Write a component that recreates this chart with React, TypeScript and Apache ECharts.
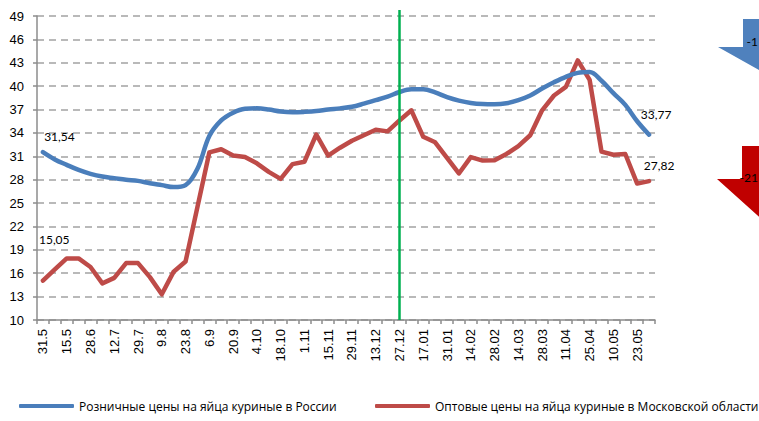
import React, { useEffect, useRef } from "react";
import * as echarts from "echarts";

const tickLabels = [
  "31.5", "15.5", "28.6", "12.7", "29.7", "9.8", "23.8", "6.9", "20.9", "4.10",
  "18.10", "1.11", "15.11", "29.11", "13.12", "27.12", "17.01", "31.01", "14.02", "28.02",
  "14.03", "28.03", "11.04", "25.04", "10.05", "23.05",
];

// weekly points: every second one carries a tick label
const categories: string[] = [];
for (let i = 0; i < 52; i++) {
  categories.push(i % 2 === 0 ? tickLabels[i / 2] : tickLabels[(i - 1) / 2] + " +1w");
}

const retailName = "Розничные цены на яйца куриные в России";
const wholesaleName = "Оптовые цены на яйца куриные в Московской области";

const retail = [
  31.54, 30.6, 29.9, 29.25, 28.75, 28.4, 28.2, 28.0, 27.85, 27.55,
  27.3, 27.05, 27.3, 29.4, 33.6, 35.6, 36.6, 37.1, 37.15, 37.0,
  36.75, 36.65, 36.7, 36.8, 37.0, 37.15, 37.35, 37.75, 38.2, 38.65,
  39.25, 39.6, 39.6, 39.2, 38.6, 38.15, 37.85, 37.7, 37.67, 37.8,
  38.2, 38.8, 39.7, 40.5, 41.2, 41.7, 41.8, 40.7, 39.1, 37.6,
  35.5, 33.77,
];

const wholesale = [
  15.05, 16.5, 17.9, 17.9, 16.8, 14.7, 15.4, 17.3, 17.3, 15.5,
  13.3, 16.2, 17.5, 24.5, 31.5, 31.9, 31.1, 30.9, 30.1, 29.0,
  28.1, 30.0, 30.3, 33.8, 31.1, 32.1, 33.0, 33.7, 34.4, 34.2,
  35.6, 36.9, 33.5, 32.8, 30.8, 28.8, 30.9, 30.45, 30.5, 31.3,
  32.3, 33.7, 36.9, 38.8, 39.9, 43.3, 40.8, 31.6, 31.2, 31.3,
  27.5, 27.82,
];

const arrowTexts = ["-1", "-21"];

const markerIndex = 30; // "27.12"

const fmt = (v: number) => v.toFixed(2).replace(".", ",");

function withEndLabels(values: number[], firstOffset: number[], lastOffset: number[]) {
  const last = values.length - 1;
  return values.map((v, i) => {
    if (i !== 0 && i !== last) return v;
    return {
      value: v,
      symbolSize: 1,
      itemStyle: { color: "rgba(0,0,0,0)", borderWidth: 0 },
      label: {
        show: true,
        position: "top",
        distance: 0,
        opacity: 1,
        offset: i === 0 ? firstOffset : lastOffset,
        formatter: () => fmt(v),
        fontFamily: "Lato, 'Open Sans', sans-serif",
        fontSize: 12,
        color: "#000",
      },
    };
  });
}

export default function App() {
  const ref = useRef<HTMLDivElement>(null);
  useEffect(() => {
    if (!ref.current) return;
    const chart = echarts.init(ref.current, undefined, { renderer: "svg" });
    const legendText = { fontFamily: "'Open Sans', sans-serif", fontSize: 12, color: "#000" };
    chart.setOption({
      animation: false,
      backgroundColor: "#fff",
      grid: { left: 37, right: 104, top: 16, bottom: 101, containLabel: false },
      legend: [
        {
          data: [retailName],
          left: 19,
          top: 400,
          icon: "roundRect",
          itemWidth: 55,
          itemHeight: 4,
          textStyle: legendText,
          padding: 0,
        },
        {
          data: [wholesaleName],
          left: 375,
          top: 400,
          icon: "roundRect",
          itemWidth: 55,
          itemHeight: 4,
          textStyle: legendText,
          padding: 0,
        },
      ],
      xAxis: {
        type: "category",
        data: categories,
        boundaryGap: true,
        axisLine: { lineStyle: { color: "#8c8c8c", width: 1.5 } },
        axisTick: { show: true, interval: 0, length: 4, lineStyle: { color: "#8c8c8c", width: 1.5 } },
        axisLabel: {
          interval: 1,
          rotate: 90,
          margin: 9,
          fontFamily: "'Liberation Sans', Arial, sans-serif",
          fontSize: 13,
          color: "#000",
        },
        splitLine: { show: false },
      },
      yAxis: {
        type: "value",
        min: 10,
        max: 49,
        interval: 3,
        axisLine: { show: true, lineStyle: { color: "#8c8c8c", width: 1.5 } },
        axisTick: { show: true, length: 4, lineStyle: { color: "#8c8c8c", width: 1.5 } },
        axisLabel: {
          margin: 13,
          fontFamily: "'Liberation Sans', Arial, sans-serif",
          fontSize: 13,
          color: "#000",
        },
        splitLine: { show: true, lineStyle: { color: "#a3a3a3", width: 1.5, type: [7, 5] } },
      },
      series: [
        {
          name: retailName,
          type: "line",
          data: withEndLabels(retail, [16.5, -9], [7, -14]),
          smooth: 0.35,
          symbol: "circle",
          symbolSize: 0,
          showSymbol: true,
          showAllSymbol: true,
          color: "#4A7EBB",
          lineStyle: { color: "#4A7EBB", width: 4.5, cap: "round", join: "round" },
          z: 3,
        },
        {
          name: wholesaleName,
          type: "line",
          data: withEndLabels(wholesale, [11.3, -35], [10, -9]),
          smooth: false,
          symbol: "circle",
          symbolSize: 0,
          showSymbol: true,
          showAllSymbol: true,
          color: "#BE4B48",
          lineStyle: { color: "#BE4B48", width: 4.5, cap: "round", join: "round" },
          z: 2,
          markLine: {
            silent: true,
            symbol: "none",
            label: { show: false },
            lineStyle: { color: "#00B050", width: 2.5, type: "solid" },
            data: [[{ xAxis: markerIndex, yAxis: 49, y: 10 }, { xAxis: markerIndex, yAxis: 10 }]],
          },
        },
      ],
      graphic: [
        {
          type: "polygon",
          shape: { points: [[743, 19], [800, 19], [800, 47], [825, 47], [771.5, 77], [718, 47], [743, 47]] },
          style: { fill: "#4F81BD" },
          silent: true,
        },
        {
          type: "text",
          x: 758,
          y: 41,
          style: { text: arrowTexts[0], fill: "#000", font: "12px Lato, 'Open Sans', sans-serif", align: "right", verticalAlign: "middle" },
          silent: true,
        },
        {
          type: "polygon",
          shape: { points: [[742, 146], [800, 146], [800, 179], [826, 179], [771.5, 228], [717, 179], [742, 179]] },
          style: { fill: "#C00000" },
          silent: true,
        },
        {
          type: "text",
          x: 758,
          y: 177,
          style: { text: arrowTexts[1], fill: "#000", font: "12px Lato, 'Open Sans', sans-serif", align: "right", verticalAlign: "middle" },
          silent: true,
        },
      ],
    });
    return () => chart.dispose();
  }, []);
  return <div ref={ref} style={{ position: "absolute", left: 0, top: 0, width: 759, height: 421 }} />;
}
